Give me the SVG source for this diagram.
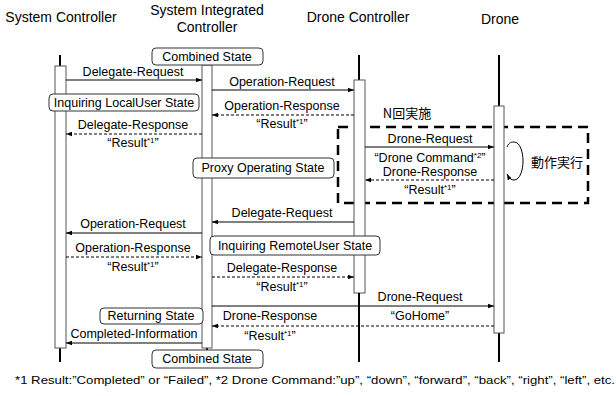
<svg xmlns="http://www.w3.org/2000/svg" width="616" height="396" viewBox="0 0 616 396">
<style>
text{font-family:"Liberation Sans","Noto Sans CJK JP",sans-serif;fill:#000}
.hd{font-size:14px;text-anchor:middle}
.lb{font-size:12.5px;text-anchor:middle}
.sup{font-size:8px}
.life{stroke:#000;stroke-width:2}
.act{fill:#fff;stroke:#555;stroke-width:1}
.st{fill:#fff;stroke:#333;stroke-width:1}
.msg{stroke:#000;stroke-width:1;fill:none}
.ret{stroke:#000;stroke-width:1;fill:none;stroke-dasharray:3 2}
.frame{fill:none;stroke:#000;stroke-width:2.5;stroke-dasharray:10 6}
.cjk{font-family:"Noto Sans CJK JP",sans-serif}
</style>
<defs>
<marker id="ah" viewBox="0 0 8 8" refX="8" refY="4" markerWidth="6" markerHeight="6" orient="auto" markerUnits="userSpaceOnUse">
<path d="M0,1 L8,4 L0,7 z" fill="#000"/>
</marker>
</defs>

<g id="loop-frame">
<rect class="frame" x="338" y="127" width="250" height="76"/>
<text class="lb cjk" x="407" y="118" style="font-size:13px">N回実施</text>
</g>

<g id="system-controller">
<text class="hd" x="61" y="22">System Controller</text>
<line class="life" x1="60" y1="55" x2="60" y2="362"/>
<rect class="act" x="55" y="66" width="11" height="282"/>
</g>

<g id="system-integrated-controller">
<text class="hd" x="207" y="15">System Integrated</text>
<text class="hd" x="207" y="32">Controller</text>
<line class="life" x1="207" y1="60" x2="207" y2="362"/>
<rect class="act" x="202" y="65" width="10" height="283"/>
</g>

<g id="drone-controller">
<text class="hd" x="358" y="22">Drone Controller</text>
<line class="life" x1="359" y1="55" x2="359" y2="362"/>
<rect class="act" x="354" y="80" width="11" height="213"/>
</g>

<g id="drone">
<text class="hd" x="500" y="24">Drone</text>
<line class="life" x1="499" y1="55" x2="499" y2="362"/>
<rect class="act" x="494" y="106" width="10" height="227"/>
</g>

<g id="connectors">
<line class="msg" x1="66" y1="80" x2="202" y2="80" marker-end="url(#ah)"/>
<line class="msg" x1="212" y1="90" x2="354" y2="90" marker-end="url(#ah)"/>
<line class="ret" x1="354" y1="115" x2="212" y2="115" marker-end="url(#ah)"/>
<line class="ret" x1="202" y1="134" x2="66" y2="134" marker-end="url(#ah)"/>
<line class="msg" x1="365" y1="147" x2="494" y2="147" marker-end="url(#ah)"/>
<line class="ret" x1="494" y1="180" x2="365" y2="180" marker-end="url(#ah)"/>
<path class="msg" d="M507,147 C509,142 512,142 514,142 C520,142 523,152 523,161 C523,170 520,180 514,180 C511,180 509,178 507,174" marker-end="url(#ah)"/>
<line class="msg" x1="354" y1="222" x2="212" y2="222" marker-end="url(#ah)"/>
<line class="msg" x1="202" y1="233" x2="66" y2="233" marker-end="url(#ah)"/>
<line class="ret" x1="66" y1="257" x2="202" y2="257" marker-end="url(#ah)"/>
<line class="ret" x1="212" y1="277" x2="354" y2="277" marker-end="url(#ah)"/>
<line class="msg" x1="212" y1="306" x2="494" y2="306" marker-end="url(#ah)"/>
<line class="ret" x1="494" y1="326" x2="212" y2="326" marker-end="url(#ah)"/>
<line class="msg" x1="202" y1="343" x2="66" y2="343" marker-end="url(#ah)"/>
<line class="life" x1="359" y1="293" x2="359" y2="362"/>
</g>

<g id="labels">
<text class="lb" x="133" y="76">Delegate-Request</text>
<text class="lb" x="282" y="86">Operation-Request</text>
<text class="lb" x="282" y="110">Operation-Response</text>
<text class="lb" x="282" y="128">“Result<tspan class="sup" dy="-4">*1</tspan><tspan dy="4">”</tspan></text>
<text class="lb" x="133" y="129">Delegate-Response</text>
<text class="lb" x="133" y="147">“Result<tspan class="sup" dy="-4">*1</tspan><tspan dy="4">”</tspan></text>
<text class="lb" x="430" y="143">Drone-Request</text>
<text class="lb" x="430" y="162">“Drone Command<tspan class="sup" dy="-4">*2</tspan><tspan dy="4">”</tspan></text>
<text class="lb" x="430" y="176">Drone-Response</text>
<text class="lb" x="430" y="194">“Result<tspan class="sup" dy="-4">*1</tspan><tspan dy="4">”</tspan></text>
<text class="lb cjk" x="557" y="167" style="font-size:13px">動作実行</text>
<text class="lb" x="282" y="217">Delegate-Request</text>
<text class="lb" x="133" y="228">Operation-Request</text>
<text class="lb" x="133" y="252">Operation-Response</text>
<text class="lb" x="133" y="271">“Result<tspan class="sup" dy="-4">*1</tspan><tspan dy="4">”</tspan></text>
<text class="lb" x="282" y="272">Delegate-Response</text>
<text class="lb" x="282" y="291">“Result<tspan class="sup" dy="-4">*1</tspan><tspan dy="4">”</tspan></text>
<text class="lb" x="420" y="301">Drone-Request</text>
<text class="lb" x="420" y="320">“GoHome”</text>
<text class="lb" x="270" y="320">Drone-Response</text>
<text class="lb" x="270" y="340">“Result<tspan class="sup" dy="-4">*1</tspan><tspan dy="4">”</tspan></text>
<text class="lb" x="134" y="338">Completed-Information</text>
</g>

<g id="combined-state-top">
<rect class="st" x="152" y="48" width="111" height="17" rx="4"/>
<text class="lb" x="207" y="61">Combined State</text>
</g>
<g id="inquiring-localuser-state">
<rect class="st" x="49" y="94" width="150" height="17" rx="4"/>
<text class="lb" x="124" y="107">Inquiring LocalUser State</text>
</g>
<g id="proxy-operating-state">
<rect class="st" x="193" y="158" width="141" height="20" rx="4"/>
<text class="lb" x="263" y="172">Proxy Operating State</text>
</g>
<g id="inquiring-remoteuser-state">
<rect class="st" x="210" y="236" width="170" height="19" rx="4"/>
<text class="lb" x="295" y="250">Inquiring RemoteUser State</text>
</g>
<g id="returning-state">
<rect class="st" x="100" y="308" width="103" height="16" rx="4"/>
<text class="lb" x="151" y="320">Returning State</text>
</g>
<g id="combined-state-bottom">
<rect class="st" x="152" y="350" width="111" height="18" rx="4"/>
<text class="lb" x="207" y="363">Combined State</text>
</g>

<text x="15" y="384" style="font-size:10.5px" textLength="600" lengthAdjust="spacingAndGlyphs">*1 Result:”Completed” or “Failed”,  *2 Drone Command:”up”, “down”, “forward”, “back”, “right”, “left”, etc.</text>
</svg>
